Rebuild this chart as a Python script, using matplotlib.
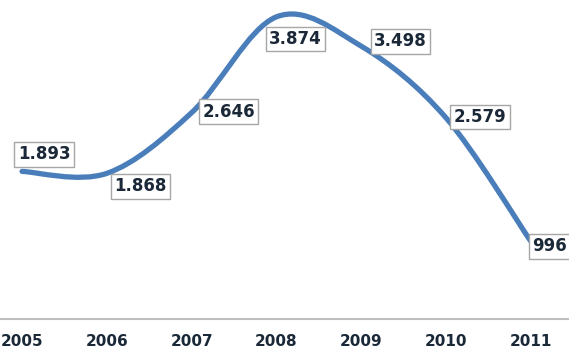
import matplotlib
matplotlib.use("Agg")
import matplotlib.pyplot as plt
from matplotlib.path import Path
from matplotlib.patches import PathPatch
import numpy as np

years = ["2005", "2006", "2007", "2008", "2009", "2010", "2011"]
values = [1893, 1868, 2646, 3874, 3498, 2579, 996]
labels = ["1.893", "1.868", "2.646", "3.874", "3.498", "2.579", "996"]
# label offsets in pixels (dx, dy) relative to the data point
offsets = [(22, 17), (34, -13), (37, 1), (19, -22), (39, 5), (34, 1), (19, -5)]

line_color = "#4a7ebb"
text_color = "#1a2838"

fig = plt.figure(figsize=(5.69, 3.51), dpi=100)
ax = fig.add_axes([0, 0.091, 1, 0.909])

x = np.arange(len(years), dtype=float)
y = np.array(values, dtype=float)

# Catmull-Rom style smoothing (Excel-like) built as cubic Bezier path
pts = np.column_stack([x, y])
ext = np.vstack([pts[0], pts, pts[-1]])
verts = [tuple(pts[0])]
codes = [Path.MOVETO]
for i in range(len(pts) - 1):
    p0, p1, p2, p3 = ext[i], ext[i + 1], ext[i + 2], ext[i + 3]
    c1 = p1 + (p2 - p0) / 6.0
    c2 = p2 - (p3 - p1) / 6.0
    verts += [tuple(c1), tuple(c2), tuple(p2)]
    codes += [Path.CURVE4] * 3
path = Path(verts, codes)
ax.add_patch(PathPatch(path, facecolor="none", edgecolor=line_color,
                       lw=3.8, capstyle="round", joinstyle="round"))

for xi, yi, lab, (dx, dy) in zip(x, y, labels, offsets):
    ax.annotate(lab, (xi, yi), xytext=(dx, dy), textcoords="offset pixels",
                ha="center", va="center", fontsize=12, fontweight="bold",
                color=text_color, family="DejaVu Sans",
                bbox=dict(boxstyle="square,pad=0.2", fc="white",
                          ec="#a6a6a6", lw=1.0),
                annotation_clip=False)

ax.set_xlim(-0.26, 6.45)
ax.set_ylim(0, 4090)
ax.set_xticks(x)
ax.set_xticklabels(years, fontsize=11, fontweight="bold", color=text_color)
ax.tick_params(axis="x", length=0, pad=11)
ax.set_yticks([])
for s in ["top", "right", "left"]:
    ax.spines[s].set_visible(False)
ax.spines["bottom"].set_color("#bfbfbf")
ax.spines["bottom"].set_linewidth(1.5)
ax.patch.set_alpha(0)

fig.savefig("out.png", dpi=100)
